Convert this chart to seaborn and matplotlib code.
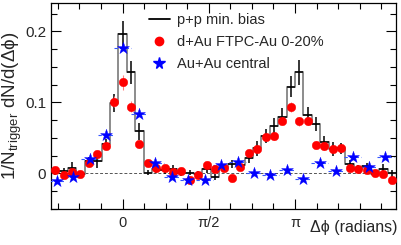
import numpy as np
import pandas as pd
import seaborn as sns
import matplotlib
matplotlib.use("Agg")
import matplotlib.pyplot as plt
from matplotlib.lines import Line2D
from matplotlib.ticker import MultipleLocator, FixedLocator

# binning: 41 bins over one 2pi period for p+p and d+Au, 21 bins for Au+Au
N_FINE = 41
N_COARSE = 21
FINE_K = np.arange(-8, 33)
COARSE_K = np.arange(-4, 17)

pp_y = [0.002, 0.003, 0.008, -0.001, 0.017, 0.017, 0.041, 0.099, 0.196, 0.142,
        0.059, 0.001, 0.006, 0.004, 0.006, 0.000, 0.001, -0.001, 0.006, -0.005,
        0.008, 0.013, 0.011, 0.021, 0.035, 0.052, 0.066, 0.080, 0.122, 0.142,
        0.082, 0.070, 0.044, 0.034, 0.035, 0.013, 0.006, 0.010, -0.001, 0.006,
        0.000]
pp_err = [0.004, 0.004, 0.008, 0.004, 0.006, 0.009, 0.008, 0.013, 0.019, 0.016,
          0.012, 0.004, 0.005, 0.005, 0.005, 0.004, 0.004, 0.004, 0.005, 0.004,
          0.005, 0.006, 0.006, 0.007, 0.010, 0.010, 0.012, 0.012, 0.015, 0.017,
          0.012, 0.010, 0.009, 0.010, 0.008, 0.006, 0.005, 0.005, 0.004, 0.007,
          0.005]
dau_y = [0.005, -0.002, 0.002, -0.001, 0.014, 0.027, 0.039, 0.101, 0.128, 0.094,
         0.041, 0.015, 0.008, 0.007, 0.002, 0.003, -0.009, -0.002, 0.011, 0.006,
         0.008, -0.007, 0.009, 0.028, 0.034, 0.051, 0.052, 0.074, 0.093, 0.073,
         0.074, 0.040, 0.038, 0.034, 0.035, 0.008, 0.006, 0.004, 0.001, -0.001,
         -0.010]
dau_err = [0.004, 0.004, 0.004, 0.004, 0.004, 0.004, 0.005, 0.008, 0.010, 0.008,
           0.005, 0.004, 0.004, 0.004, 0.004, 0.004, 0.004, 0.004, 0.004, 0.004,
           0.004, 0.004, 0.004, 0.004, 0.004, 0.005, 0.005, 0.005, 0.007, 0.006,
           0.006, 0.005, 0.005, 0.005, 0.005, 0.004, 0.004, 0.004, 0.004, 0.004,
           0.004]
auau_y = [-0.011, -0.005, 0.020, 0.054, 0.177, 0.084, 0.015, -0.005, -0.009, -0.009,
          0.011, 0.016, 0.000, -0.002, 0.005, -0.008, 0.015, 0.003, 0.023, 0.009,
          0.023]
auau_err = [0.003] * len(auau_y)

LABELS = ["p+p min. bias", "d+Au FTPC-Au 0-20%", "Au+Au central"]

fine_w = 2 * np.pi / N_FINE
coarse_w = 2 * np.pi / N_COARSE
fine_x = FINE_K * fine_w
coarse_x = COARSE_K * coarse_w

sns.set_theme(style="ticks")
plt.rcParams["font.family"] = ["Liberation Sans", "DejaVu Sans"]
plt.rcParams["mathtext.fontset"] = "custom"
plt.rcParams["mathtext.rm"] = "Liberation Sans"
plt.rcParams["mathtext.it"] = "Liberation Sans:italic"

fig = plt.figure(figsize=(4.02, 2.45), dpi=100)
ax = fig.add_axes([0.127, 0.147, 0.858, 0.841])

# p+p step histogram (grey outline)
edges = np.append(fine_x - fine_w / 2, fine_x[-1] + fine_w / 2)
hist = pd.DataFrame({"x": edges, "y": pp_y + [pp_y[-1]]})
sns.lineplot(data=hist, x="x", y="y", drawstyle="steps-post", color="#8c8c8c",
             linewidth=1.4, estimator=None, ax=ax, legend=False)

ax.axhline(0, color="#555555", linewidth=0.7, linestyle=(0, (3, 2)), zorder=1)

# p+p error crosses
ax.errorbar(fine_x, pp_y, yerr=pp_err, xerr=fine_w / 2, fmt="none",
            ecolor="black", elinewidth=1.1, capsize=0, zorder=3)

# d+Au points
ax.errorbar(fine_x, dau_y, yerr=dau_err, xerr=fine_w / 3, fmt="none",
            ecolor="#ff8080", elinewidth=0.8, capsize=0, zorder=4)
sns.scatterplot(x=fine_x, y=dau_y, color="#ff0000", marker="o", s=38,
                edgecolor="#ff0000", linewidth=0.3, ax=ax, zorder=5)

# Au+Au points
eb = ax.errorbar(coarse_x, auau_y, yerr=auau_err, xerr=coarse_w / 2, fmt="none",
                 ecolor="#3355ff", elinewidth=0.8, capsize=0, zorder=4)
for coll in eb[2]:
    coll.set_linestyle((0, (3, 2)))
sns.scatterplot(x=coarse_x, y=auau_y, color="#0000ff", marker="*", s=80,
                edgecolor="#0000ff", linewidth=0.3, ax=ax, zorder=6)

ax.set_xlim(fine_x[0] - fine_w / 2, fine_x[-1] + fine_w / 2)
ax.set_ylim(-0.0503, 0.240)

ax.xaxis.set_major_locator(FixedLocator([0, np.pi / 2, np.pi]))
ax.set_xticklabels(["0", "π/2", "π"])
ax.xaxis.set_minor_locator(MultipleLocator(np.pi / 8))
ax.yaxis.set_major_locator(MultipleLocator(0.1))
ax.yaxis.set_minor_locator(MultipleLocator(0.025))
ax.yaxis.set_major_formatter(plt.FuncFormatter(lambda v, p: "0" if abs(v) < 1e-9 else f"{v:.1f}"))
ax.tick_params(which="both", direction="in", top=True, right=True,
               color="black", width=0.8)
ax.tick_params(axis="y", labelsize=11)
ax.tick_params(axis="x", labelsize=10.5, pad=5)
ax.tick_params(which="major", length=7)
ax.tick_params(which="minor", length=4)
for s in ax.spines.values():
    s.set_linewidth(0.9)
    s.set_color("black")

ax.set_xlabel("")
ax.set_ylabel(r"1/N$_{\mathrm{trigger}}$ dN/d(Δϕ)", fontsize=13.5, labelpad=1)
fig.text(0.988, 0.07, "Δϕ (radians)", ha="right", va="center", fontsize=11.5)

handles = [
    Line2D([], [], color="black", linewidth=1.3),
    Line2D([], [], color="#ff0000", marker="o", linestyle="none", markersize=6),
    Line2D([], [], color="#0000ff", marker="*", linestyle="none", markersize=8.5),
]
ax.legend(handles, LABELS, loc="upper left", bbox_to_anchor=(0.255, 1.0),
          frameon=False, fontsize=10.5, handlelength=1.4, handletextpad=0.5,
          labelspacing=0.55, borderaxespad=0.3)

fig.savefig("out.png", dpi=100)
